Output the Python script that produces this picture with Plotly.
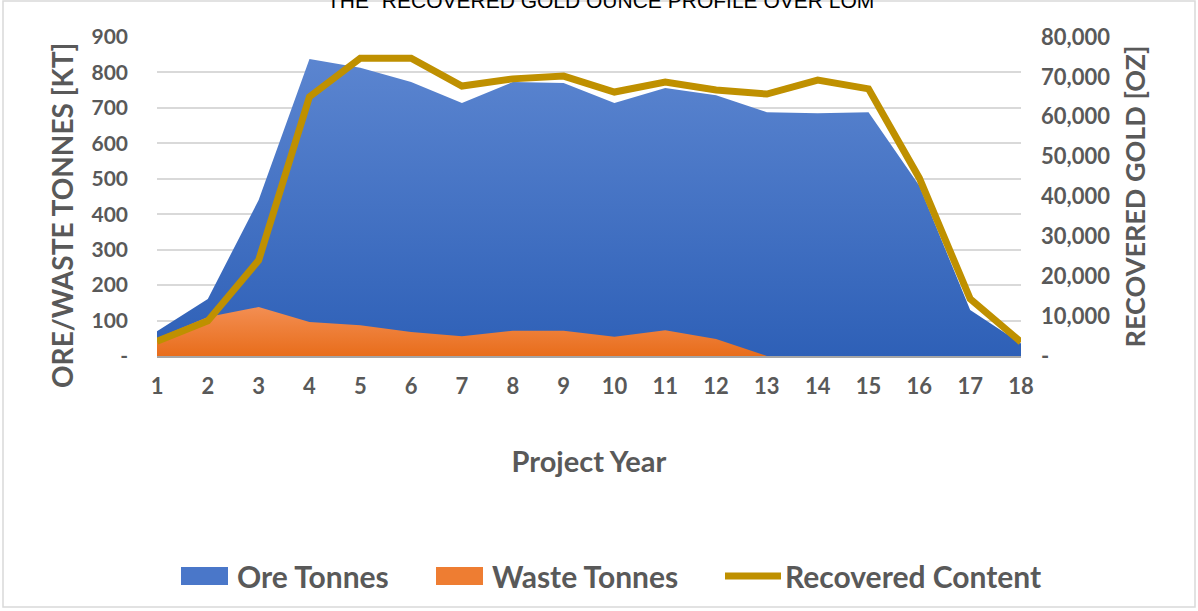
import plotly.graph_objects as go

years = list(range(1, 19))
ore_tonnes = [70, 161, 440, 838, 813, 773, 714, 773, 770, 714, 756, 736, 688, 685, 688, 480, 130, 35]
waste_tonnes = [50, 110, 138, 96, 87, 68, 56, 71, 71, 54, 73, 48, 0, 0, 0, 0, 0, 0]
recovered_oz = [3700, 8800, 24000, 65000, 74700, 74700, 67700, 69500, 70200, 66200, 68700, 66700, 65700, 69200, 67000, 44600, 14300, 3500]

left_ticks = [0, 100, 200, 300, 400, 500, 600, 700, 800, 900]
left_labels = ["-", "100", "200", "300", "400", "500", "600", "700", "800", "900"]
right_ticks = [0, 10000, 20000, 30000, 40000, 50000, 60000, 70000, 80000]
right_labels = ["-", "10,000", "20,000", "30,000", "40,000", "50,000", "60,000", "70,000", "80,000"]
legend_names = ["Ore Tonnes", "Waste Tonnes", "Recovered Content"]

FONT = "Lato, Noto Sans, sans-serif"
GRAY = "#595959"
BLUE = "#4a77c9"
ORANGE = "#ee7d32"
GOLD = "#BF9000"

# plot-area geometry in pixels (for legend / title placement)
L, R, T, B = 157, 1021, 37, 356
def px(X):
    return (X - L) / (R - L)
def py(Y):
    return (B - Y) / (B - T)

fig = go.Figure()
fig.add_trace(go.Scatter(
    x=years, y=ore_tonnes, name=legend_names[0], mode="none", fill="tozeroy",
    fillgradient=dict(type="vertical", colorscale=[[0, "#2e60b7"], [1, "#5b85d0"]]),
    fillcolor="#4472C4", hoverinfo="skip", showlegend=False,
))
fig.add_trace(go.Scatter(
    x=years, y=waste_tonnes, name=legend_names[1], mode="none", fill="tozeroy",
    fillgradient=dict(type="vertical", colorscale=[[0, "#e86d1b"], [1, "#f38e52"]]),
    fillcolor="#ED7D31", hoverinfo="skip", showlegend=False,
))
fig.add_trace(go.Scatter(
    x=years, y=recovered_oz, name=legend_names[2], mode="lines", yaxis="y2",
    line=dict(color=GOLD, width=7), hoverinfo="skip", showlegend=False,
))

legend_y = py(576)
shapes = [
    dict(type="rect", xref="paper", yref="paper", x0=px(3), x1=px(1195), y0=py(607), y1=py(1),
         line=dict(color="#d9d9d9", width=1.5), fillcolor="rgba(0,0,0,0)", layer="below"),
    dict(type="rect", xref="paper", yref="paper", x0=px(181), x1=px(228), y0=py(585), y1=py(567),
         line=dict(width=0), fillcolor=BLUE),
    dict(type="rect", xref="paper", yref="paper", x0=px(436), x1=px(483), y0=py(585), y1=py(567),
         line=dict(width=0), fillcolor=ORANGE),
    dict(type="line", xref="paper", yref="paper", x0=px(725), x1=px(781), y0=legend_y, y1=legend_y,
         line=dict(color=GOLD, width=7)),
]
leg_font = dict(size=30, family=FONT, color=GRAY, weight="bold")
annotations = [
    dict(text="THE \u201CRECOVERED GOLD OUNCE PROFILE OVER LOM", xref="paper", yref="paper",
         x=px(600), y=1.073, xanchor="center", yanchor="bottom", showarrow=False,
         font=dict(size=21, family="Liberation Sans, Arial, sans-serif", color="#000000")),
    dict(text="ORE/WASTE TONNES [KT]", xref="paper", yref="paper", x=px(62), y=py(216),
         xanchor="center", yanchor="middle", textangle=-90, showarrow=False,
         font=dict(size=28, family=FONT, color=GRAY, weight="bold")),
    dict(text=legend_names[0], xref="paper", yref="paper", x=px(235), y=legend_y,
         xanchor="left", yanchor="middle", showarrow=False, font=leg_font),
    dict(text=legend_names[1], xref="paper", yref="paper", x=px(490), y=legend_y,
         xanchor="left", yanchor="middle", showarrow=False, font=leg_font),
    dict(text=legend_names[2], xref="paper", yref="paper", x=px(783), y=legend_y,
         xanchor="left", yanchor="middle", showarrow=False, font=leg_font),
]

fig.update_layout(
    width=1198, height=611,
    margin=dict(l=L, r=1198 - R, t=T, b=611 - B),
    paper_bgcolor="white", plot_bgcolor="white",
    font=dict(family=FONT, color=GRAY),
    showlegend=False,
    xaxis=dict(
        tickmode="array", tickvals=years, ticktext=[str(y) for y in years],
        range=[1, 18], showgrid=False, showline=True, linecolor="#a6a6a6", linewidth=1.5,
        ticks="", ticklabelstandoff=10, tickfont=dict(size=22, family=FONT, color=GRAY, weight="bold"),
        title=dict(text="Project Year", font=dict(size=29, family=FONT, color=GRAY, weight="bold"), standoff=54),
    ),
    yaxis=dict(
        range=[0, 900], tickmode="array", tickvals=left_ticks, ticktext=left_labels,
        showgrid=True, gridcolor="#d9d9d9", gridwidth=1.5, zeroline=False, showline=False,
        ticks="", ticklabelstandoff=28,
        tickfont=dict(size=21, family=FONT, color=GRAY, weight="bold"),
    ),
    yaxis2=dict(
        range=[0, 80000], overlaying="y", side="right", tickmode="array",
        tickvals=right_ticks, ticktext=right_labels, showgrid=False, zeroline=False,
        ticks="", ticklabelstandoff=19,
        tickfont=dict(size=22, family=FONT, color=GRAY, weight="bold"),
        title=dict(text="RECOVERED GOLD [OZ]", font=dict(size=27, family=FONT, color=GRAY, weight="bold"), standoff=16),
    ),
    shapes=shapes,
    annotations=annotations,
)

fig.write_html("out.html", config={"displayModeBar": False},
               post_script="document.body.style.margin='0';")
